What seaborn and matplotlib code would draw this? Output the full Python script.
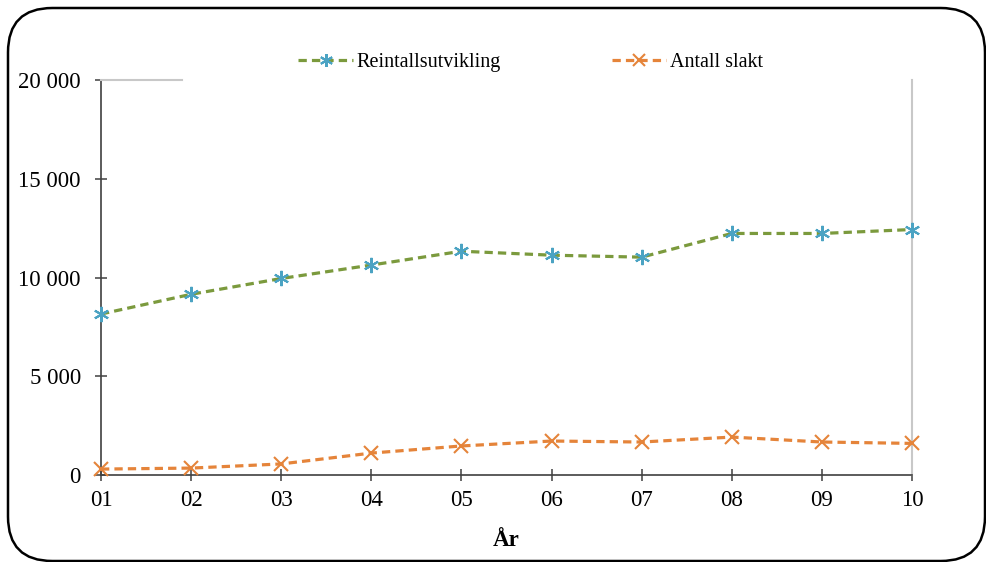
import numpy as np
import pandas as pd
import matplotlib
matplotlib.use("Agg")
import matplotlib.pyplot as plt
from matplotlib.patches import FancyBboxPatch
from matplotlib.ticker import FuncFormatter
import seaborn as sns

# data
years = ["01", "02", "03", "04", "05", "06", "07", "08", "09", "10"]
reintall = [8150, 9150, 9950, 10630, 11330, 11130, 11030, 12230, 12230, 12430]
slakt = [300, 350, 560, 1110, 1470, 1720, 1670, 1920, 1670, 1600]

GREEN = "#7B9A3D"
TEAL = "#4BA3C3"
ORANGE = "#E5843A"


def main():
    sns.set_style("white")
    plt.rcParams["font.family"] = ["Liberation Serif", "DejaVu Serif"]
    plt.rcParams["font.size"] = 16.5
    plt.rcParams["text.color"] = "black"

    W, H = 986, 562
    fig = plt.figure(figsize=(W / 100, H / 100), dpi=100)
    ax = fig.add_subplot(111)
    fig.subplots_adjust(left=101 / W, right=912 / W, bottom=1 - 475 / H, top=1 - 80 / H)

    df = pd.DataFrame({"year": years, "Reintallsutvikling": reintall, "Antall slakt": slakt})

    dash = (0, (2.6, 1.6))
    sns.lineplot(data=df, x="year", y="Reintallsutvikling", ax=ax, color=GREEN,
                 linewidth=2.3, linestyle=dash, marker=(6, 2, 0), markersize=11,
                 markeredgecolor=TEAL, markeredgewidth=1.5, label="Reintallsutvikling",
                 clip_on=False, zorder=3)
    sns.lineplot(data=df, x="year", y="Antall slakt", ax=ax, color=ORANGE,
                 linewidth=2.3, linestyle=dash, marker="x", markersize=10,
                 markeredgecolor=ORANGE, markeredgewidth=1.5, label="Antall slakt",
                 clip_on=False, zorder=3)

    ax.set_xlim(0, len(years) - 1)
    ax.set_ylim(0, 20000)
    ax.set_yticks(np.arange(0, 20001, 5000))
    ax.yaxis.set_major_formatter(FuncFormatter(lambda v, p: f"{v:,.0f}".replace(",", " ")))

    ax.set_xlabel("År", fontweight="bold", fontsize=16.5, labelpad=14, color="black")
    ax.set_ylabel("")

    for s in ["left", "bottom"]:
        ax.spines[s].set_color("#404040")
        ax.spines[s].set_linewidth(1.2)
    for s in ["right", "top"]:
        ax.spines[s].set_color("#C8C8C8")
        ax.spines[s].set_linewidth(1.5)
    ax.spines["top"].set_bounds(0, 0.9)

    ax.tick_params(axis="both", direction="inout", length=9, width=1.1,
                   color="#404040", labelsize=16.5, labelcolor="black",
                   left=True, bottom=True)
    ax.tick_params(axis="y", pad=10)
    ax.tick_params(axis="x", pad=6)

    handles, labels = ax.get_legend_handles_labels()
    ax.legend(handles, labels, loc="center", bbox_to_anchor=(0.530, 1.045), ncol=2,
              frameon=False, fontsize=14.5, handlelength=2.7, handletextpad=0.2,
              columnspacing=5.5, numpoints=1, labelcolor="black", markerscale=0.85)

    # rounded frame around the whole chart
    frame = FancyBboxPatch((8 / W, 1.0 / H), 977 / W, 553 / H,
                           boxstyle="round,pad=0,rounding_size=0.045",
                           transform=fig.transFigure, fill=False,
                           edgecolor="black", linewidth=1.8,
                           mutation_aspect=W / H)
    fig.patches.append(frame)

    fig.savefig("out.png", dpi=100)
    plt.close(fig)


if __name__ == "__main__":
    main()
